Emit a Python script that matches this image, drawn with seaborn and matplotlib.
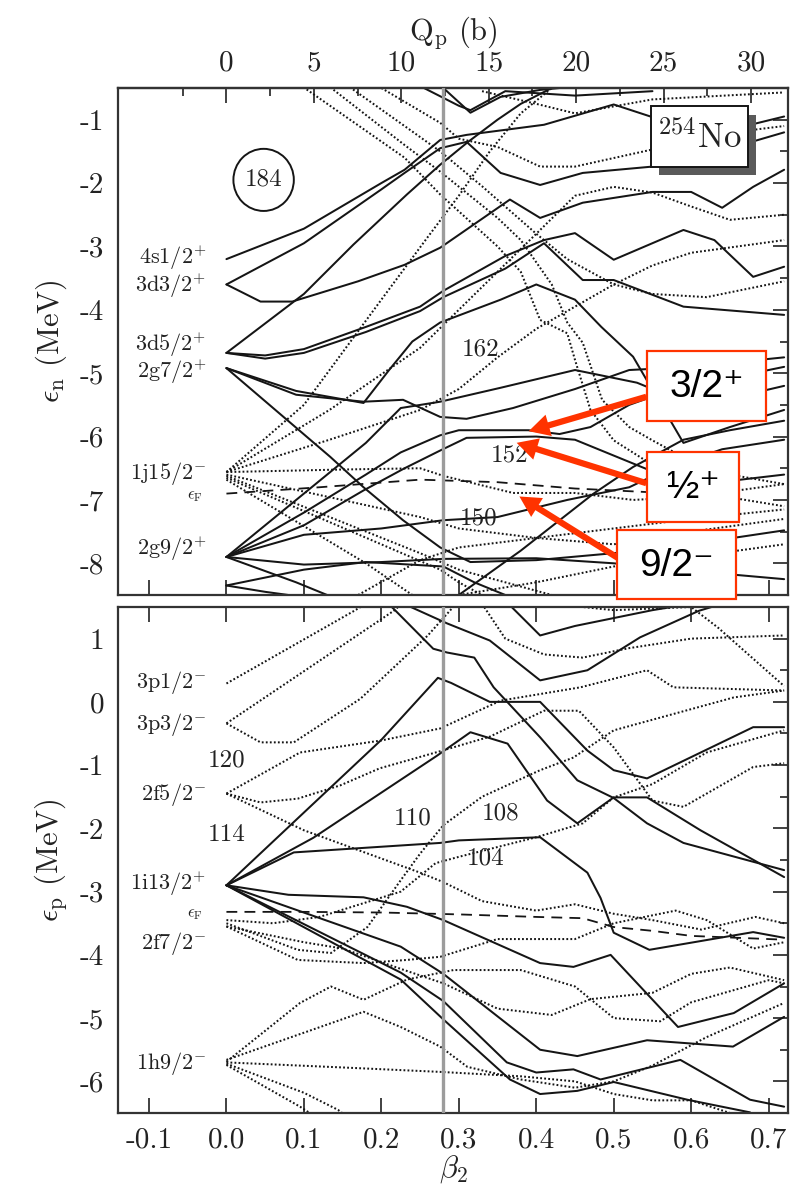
import matplotlib
matplotlib.use("Agg")
import matplotlib.pyplot as plt
import numpy as np
import pandas as pd
import seaborn as sns
from matplotlib.patches import Rectangle, Ellipse, FancyArrowPatch
from matplotlib.ticker import FixedLocator, FixedFormatter

# ---------------- tick values / labels ----------------
beta_major = [-0.1, 0.0, 0.1, 0.2, 0.3, 0.4, 0.5, 0.6, 0.7]
beta_labels = ["-0.1", "0.0", "0.1", "0.2", "0.3", "0.4", "0.5", "0.6", "0.7"]
beta_minor = [-0.05, 0.05, 0.15, 0.25, 0.35, 0.45, 0.55, 0.65]
q_major = [0, 5, 10, 15, 20, 25, 30]
q_labels = ["0", "5", "10", "15", "20", "25", "30"]
q_minor = [-2.5, 2.5, 7.5, 12.5, 17.5, 22.5, 27.5]
en_major = [-1, -2, -3, -4, -5, -6, -7, -8]
ep_major = [1, 0, -1, -2, -3, -4, -5, -6]

# ---------------- neutron single-particle levels (beta2, E) ----------------
# positive parity (solid)
n_4s1 = [(0, -3.2), (0.1, -2.72), (0.2, -2.0), (0.23, -1.79), (0.276, -1.32), (0.31, -1.24), (0.41, -1.08), (0.5, -0.76), (0.56, -1.0), (0.65, -1.16), (0.72, -0.95)]
n_3d3a = [(0, -3.6), (0.1, -2.95), (0.2, -2.1), (0.23, -1.84), (0.276, -1.45), (0.31, -1.35), (0.354, -1.84), (0.405, -2.03), (0.46, -1.84), (0.55, -1.74), (0.65, -1.45), (0.72, -1.2)]
n_3d3b = [(0, -3.6), (0.044, -3.87), (0.085, -3.87), (0.17, -3.55), (0.23, -3.29), (0.276, -3.02), (0.366, -2.26), (0.405, -2.55), (0.46, -2.31), (0.55, -2.14), (0.6, -2.14), (0.64, -2.39), (0.68, -2.06), (0.72, -1.79)]
n_3d5a = [(0, -4.68), (0.1, -3.75), (0.164, -2.97), (0.233, -2.18), (0.276, -1.71), (0.312, -1.35), (0.35, -1.0), (0.38, -0.75), (0.42, -0.5)]
n_3d5b = [(0, -4.68), (0.05, -4.72), (0.1, -4.62), (0.18, -4.27), (0.25, -3.95), (0.28, -3.7), (0.36, -3.15), (0.41, -2.9), (0.45, -2.79), (0.5, -3.21), (0.59, -2.74), (0.63, -2.9), (0.68, -3.48), (0.72, -3.32)]
n_3d5c = [(0, -4.68), (0.05, -4.77), (0.1, -4.68), (0.18, -4.35), (0.25, -4.02), (0.28, -3.8), (0.36, -3.35), (0.41, -2.95), (0.46, -3.53), (0.5, -3.53), (0.59, -3.95), (0.72, -4.08)]
n_2g7a = [(0, -4.92), (0.134, -6.32), (0.177, -6.8), (0.228, -7.32), (0.276, -7.75), (0.315, -7.98), (0.4, -7.95), (0.5, -7.84), (0.61, -7.68), (0.72, -7.48)]
n_2g7b = [(0, -4.92), (0.09, -5.34), (0.177, -5.45), (0.228, -5.42), (0.276, -5.69), (0.31, -5.72), (0.37, -5.55), (0.45, -5.25), (0.52, -4.95), (0.6, -4.9), (0.72, -4.75)]
n_2g7c = [(0, -4.92), (0.09, -5.28), (0.177, -5.47), (0.21, -4.95), (0.24, -4.5), (0.276, -4.2), (0.354, -3.84), (0.4, -3.6), (0.45, -3.84), (0.484, -4.27), (0.525, -4.74), (0.59, -6.1), (0.65, -5.85), (0.72, -5.58)]
n_2g9a = [(0, -7.9), (0.1, -6.9), (0.18, -6.1), (0.225, -5.55), (0.276, -5.45), (0.354, -5.23), (0.45, -4.95), (0.53, -5.15), (0.6, -5.5), (0.65, -5.4), (0.72, -5.2)]
n_2g9b = [(0, -7.9), (0.1, -7.2), (0.18, -6.6), (0.225, -6.25), (0.276, -5.98), (0.3, -5.9), (0.39, -5.9), (0.43, -5.96), (0.47, -5.85), (0.52, -5.5), (0.6, -5.15), (0.66, -5.05), (0.72, -4.9)]
n_2g9c = [(0, -7.9), (0.1, -7.4), (0.177, -6.85), (0.23, -6.5), (0.276, -6.22), (0.31, -6.02), (0.4, -6.0), (0.45, -6.05), (0.5, -6.3), (0.55, -6.55), (0.6, -6.9), (0.65, -6.7), (0.72, -6.6)]
n_2g9d = [(0, -7.9), (0.1, -7.55), (0.2, -7.45), (0.28, -7.32), (0.35, -7.27), (0.44, -7.0), (0.52, -6.8), (0.58, -6.45), (0.64, -6.2), (0.72, -6.05)]
n_2g9e = [(0, -7.9), (0.1, -8.02), (0.2, -7.98), (0.28, -7.93), (0.4, -7.92), (0.5, -8.0), (0.6, -8.12), (0.72, -8.25)]
n_2g9f = [(0, -7.9), (0.09, -8.3), (0.13, -8.5)]
n_1i11a = [(0, -8.35), (0.1, -8.1), (0.18, -7.98), (0.28, -8.05), (0.32, -8.3), (0.36, -8.5)]
n_1i11b = [(0, -8.35), (0.05, -8.45), (0.08, -8.5)]
n_top_a = [(0.28, -0.5), (0.315, -0.89), (0.354, -0.64), (0.405, -0.53), (0.43, -0.5)]
n_top_b = [(0.255, -0.5), (0.3, -0.78), (0.315, -0.85), (0.33, -0.75), (0.36, -0.55), (0.45, -0.62), (0.55, -0.55)]
n_low_a = [(0.3, -8.5), (0.38, -7.8), (0.474, -6.9), (0.525, -6.48), (0.59, -6.05), (0.65, -5.9), (0.72, -5.75)]
# negative parity (dotted)
n_1j15a = [(0, -6.56), (0.1, -5.5), (0.2, -3.84), (0.26, -2.85), (0.3, -2.2), (0.34, -1.5), (0.38, -0.9), (0.42, -0.5)]
n_1j15b = [(0, -6.56), (0.133, -5.58), (0.25, -4.6), (0.3, -4.0), (0.35, -3.4), (0.4, -2.8), (0.45, -2.2), (0.5, -2.06), (0.55, -2.15), (0.6, -2.37), (0.65, -2.58), (0.72, -2.5)]
n_1j15c = [(0, -6.56), (0.133, -6.05), (0.25, -5.58), (0.3, -5.25), (0.35, -4.75), (0.4, -4.3), (0.45, -3.95), (0.5, -3.6), (0.55, -3.3), (0.6, -3.1), (0.72, -2.9)]
n_1j15d = [(0, -6.56), (0.15, -6.52), (0.25, -6.5), (0.28, -6.62), (0.37, -6.89), (0.45, -6.89), (0.525, -7.0), (0.6, -6.95), (0.72, -6.75)]
n_1j15e = [(0, -6.6), (0.25, -7.27), (0.3, -7.45), (0.4, -7.6), (0.5, -7.7), (0.6, -7.5), (0.72, -7.3)]
n_1j15f = [(0, -6.62), (0.25, -7.84), (0.3, -8.1), (0.36, -8.3), (0.42, -8.5)]
n_1j15g = [(0, -6.65), (0.276, -8.1), (0.3, -8.3), (0.33, -8.5)]
n_1j15h = [(0, -6.68), (0.18, -8.0), (0.24, -8.5)]
n_high_a = [(0.095, -0.45), (0.23, -1.6), (0.276, -2.18), (0.35, -3.0), (0.38, -3.4), (0.405, -4.16), (0.44, -4.37), (0.45, -4.79), (0.47, -5.58), (0.5, -6.06), (0.54, -6.37), (0.58, -6.58), (0.62, -6.9), (0.72, -7.1)]
n_high_b = [(0.13, -0.45), (0.23, -1.4), (0.276, -1.82), (0.35, -2.55), (0.38, -2.9), (0.42, -3.6), (0.44, -4.2), (0.46, -4.52), (0.485, -5.42), (0.52, -5.85), (0.55, -6.06), (0.58, -6.26), (0.65, -6.6), (0.72, -6.75)]
n_high_c = [(0.155, -0.45), (0.23, -1.1), (0.276, -1.5), (0.33, -2.05), (0.4, -2.8), (0.44, -3.2), (0.5, -3.6), (0.55, -3.75), (0.62, -3.8), (0.72, -3.55)]
n_high_d = [(0.2, -0.5), (0.276, -1.05), (0.3, -1.3), (0.35, -1.43), (0.405, -1.74), (0.45, -1.74), (0.55, -1.47), (0.62, -1.25), (0.72, -1.1)]
n_high_e = [(0.33, -0.55), (0.4, -0.75), (0.45, -0.9), (0.55, -0.68), (0.72, -0.57)]
n_low_b = [(0.17, -8.5), (0.25, -7.95), (0.3, -7.75), (0.4, -7.6), (0.5, -7.45), (0.6, -7.3), (0.72, -7.15)]
n_low_c = [(0.3, -8.5), (0.4, -8.3), (0.5, -8.05), (0.6, -7.9), (0.72, -7.7)]

# ---------------- proton single-particle levels ----------------
p_1i13a = [(0, -2.9), (0.2, -0.6), (0.273, 0.38), (0.29, 0.3), (0.34, 0.0), (0.405, 0.0), (0.466, -0.77), (0.5, -1.08), (0.543, -1.21), (0.68, -0.4), (0.72, -0.4)]
p_1i13b = [(0, -2.9), (0.112, -2.15), (0.272, -0.85), (0.315, -0.48), (0.363, -0.66), (0.414, -1.56), (0.453, -1.92), (0.5, -1.51), (0.543, -1.51), (0.612, -2.03), (0.72, -2.77)]
p_1i13c = [(0, -2.9), (0.087, -2.38), (0.276, -2.23), (0.3, -2.19), (0.405, -2.14), (0.466, -2.7), (0.483, -3.1), (0.5, -3.65), (0.546, -3.92), (0.68, -3.64), (0.72, -3.73)]
p_1i13d = [(0, -2.9), (0.08, -3.05), (0.177, -3.09), (0.233, -3.24), (0.28, -3.45), (0.405, -4.13), (0.448, -4.19), (0.496, -4.0), (0.583, -5.14), (0.655, -4.92), (0.72, -4.45)]
p_1i13e = [(0, -2.9), (0.225, -3.87), (0.28, -4.3), (0.405, -5.5), (0.453, -5.6), (0.543, -5.35), (0.654, -5.45), (0.72, -4.98)]
p_1i13f = [(0, -2.9), (0.225, -4.28), (0.28, -4.73), (0.362, -5.7), (0.4, -5.86), (0.448, -5.81), (0.483, -5.97), (0.586, -5.66), (0.676, -6.29), (0.72, -6.4)]
p_1i13g = [(0, -2.9), (0.225, -4.39), (0.28, -5.02), (0.366, -5.97), (0.405, -6.2), (0.453, -6.15), (0.5, -6.01), (0.595, -6.29), (0.676, -6.49)]
p_top_a = [(0.2, 1.65), (0.216, 1.47), (0.267, 0.84), (0.285, 0.78), (0.32, 0.7), (0.345, 0.23), (0.405, -0.56), (0.453, -1.24), (0.5, -1.52), (0.543, -1.92), (0.59, -2.23), (0.72, -2.66)]
p_top_b = [(0.22, 1.6), (0.285, 1.24), (0.34, 0.97), (0.405, 0.34), (0.466, 0.5), (0.534, 1.02), (0.61, 1.44), (0.64, 1.55)]
p_top_c = [(0.36, 1.6), (0.405, 1.05), (0.45, 1.2), (0.55, 1.45), (0.6, 1.55)]
p_3p1 = [(0, 0.29), (0.165, 1.44), (0.2, 1.7)]
p_3p3a = [(0, -0.34), (0.216, 1.44), (0.24, 1.7)]
p_3p3b = [(0, -0.34), (0.044, -0.64), (0.087, -0.64), (0.173, 0.05), (0.26, 1.05), (0.3, 1.6)]
p_2f5a = [(0, -1.45), (0.095, -0.8), (0.2, -0.61), (0.276, -0.42), (0.354, 0.02), (0.457, 0.23), (0.543, 0.5), (0.577, 0.23), (0.72, 0.18)]
p_2f5b = [(0, -1.45), (0.044, -1.59), (0.092, -1.53), (0.147, -1.32), (0.198, -1.05), (0.276, -0.78), (0.34, -0.55), (0.41, -0.14), (0.455, -0.14), (0.5, -0.72), (0.55, -1.56), (0.59, -1.66), (0.68, -1.03), (0.72, -0.97)]
p_2f5c = [(0, -1.45), (0.1, -2.03), (0.25, -2.7), (0.28, -2.85), (0.33, -3.15), (0.4, -3.3), (0.45, -3.2), (0.5, -3.35), (0.55, -3.45), (0.613, -3.6), (0.683, -3.4), (0.72, -3.5)]
p_2f7a = [(0, -3.45), (0.06, -3.5), (0.12, -3.4), (0.225, -3.0), (0.27, -2.55), (0.3, -2.45), (0.4, -2.14), (0.46, -1.92), (0.5, -1.51), (0.55, -1.3), (0.62, -0.8), (0.72, -0.45)]
p_2f7b = [(0, -3.5), (0.092, -3.92), (0.135, -3.97), (0.182, -3.56), (0.225, -2.82), (0.25, -2.4), (0.28, -1.95), (0.33, -1.5), (0.405, -1.08), (0.448, -0.88), (0.5, -0.45), (0.655, 0.07), (0.72, 0.18)]
p_2f7c = [(0, -3.55), (0.092, -4.08), (0.177, -4.13), (0.233, -4.08), (0.276, -4.03), (0.35, -3.75), (0.45, -3.75), (0.5, -3.5), (0.58, -3.3), (0.62, -3.45), (0.68, -3.9), (0.72, -3.8)]
p_2f7d = [(0, -3.55), (0.1, -3.8), (0.15, -3.9), (0.22, -4.2), (0.28, -4.45), (0.35, -4.85), (0.42, -4.95), (0.47, -4.7), (0.55, -4.6), (0.6, -4.3), (0.65, -4.2), (0.72, -4.4)]
p_1h9a = [(0, -5.69), (0.095, -4.76), (0.135, -4.5), (0.177, -4.71), (0.233, -4.39), (0.293, -4.24), (0.38, -4.24), (0.45, -4.5), (0.5, -5.0), (0.56, -5.05), (0.6, -4.75), (0.7, -4.4), (0.72, -4.45)]
p_1h9b = [(0, -5.66), (0.177, -4.9), (0.225, -5.14), (0.276, -5.45), (0.311, -5.77), (0.38, -5.97), (0.45, -6.1), (0.5, -6.0), (0.55, -5.75), (0.62, -5.3), (0.72, -4.76)]
p_1h9c = [(0, -5.7), (0.15, -5.78), (0.276, -5.85), (0.38, -5.92), (0.45, -6.0), (0.5, -6.2), (0.55, -6.3), (0.6, -6.3), (0.65, -6.5)]
p_1h9d = [(0, -5.72), (0.1, -6.18), (0.144, -6.45), (0.16, -6.6)]
p_1h9e = [(0, -5.74), (0.095, -6.4), (0.12, -6.6)]
p_top_d = [(0.33, 1.55), (0.36, 1.0), (0.41, 0.75), (0.46, 0.7), (0.52, 0.85), (0.6, 1.0), (0.72, 1.05)]
p_top_e = [(0.42, 1.55), (0.5, 1.45), (0.6, 1.5), (0.635, 1.17), (0.72, 0.25)]

neutron_solid = [n_4s1, n_3d3a, n_3d3b, n_3d5a, n_3d5b, n_3d5c, n_2g7a, n_2g7b, n_2g7c,
                 n_2g9a, n_2g9b, n_2g9c, n_2g9d, n_2g9e, n_2g9f, n_1i11a, n_1i11b,
                 n_top_a, n_top_b, n_low_a]
neutron_dotted = [n_1j15a, n_1j15b, n_1j15c, n_1j15d, n_1j15e, n_1j15f, n_1j15g, n_1j15h,
                  n_high_a, n_high_b, n_high_c, n_high_d, n_high_e, n_low_b, n_low_c]
proton_solid = [p_1i13a, p_1i13b, p_1i13c, p_1i13d, p_1i13e, p_1i13f, p_1i13g,
                p_top_a, p_top_b, p_top_c]
proton_dotted = [p_3p1, p_3p3a, p_3p3b, p_2f5a, p_2f5b, p_2f5c, p_2f7a, p_2f7b, p_2f7c, p_2f7d,
                 p_1h9a, p_1h9b, p_1h9c, p_1h9d, p_1h9e, p_top_d, p_top_e]

# Fermi levels
n_fermi_beta = [0.0, 0.12, 0.25, 0.35, 0.45, 0.55, 0.66]
n_fermi_E = [-6.9, -6.8, -6.68, -6.72, -6.82, -6.88, -6.85]
p_fermi_beta = [0.0, 0.1, 0.2, 0.3, 0.4, 0.46, 0.5, 0.55, 0.6, 0.72]
p_fermi_E = [-3.32, -3.32, -3.33, -3.36, -3.4, -3.42, -3.56, -3.62, -3.7, -3.76]

# spherical labels
n_sph_labels = [r"$\mathrm{4s1/2}^{+}$", r"$\mathrm{3d3/2}^{+}$", r"$\mathrm{3d5/2}^{+}$",
                r"$\mathrm{2g7/2}^{+}$", r"$\mathrm{1j15/2}^{-}$", r"$\mathrm{2g9/2}^{+}$"]
n_sph_E = [-3.18, -3.62, -4.55, -4.98, -6.58, -7.77]
p_sph_labels = [r"$\mathrm{3p1/2}^{-}$", r"$\mathrm{3p3/2}^{-}$", r"$\mathrm{2f5/2}^{-}$",
                r"$\mathrm{1i13/2}^{+}$", r"$\mathrm{2f7/2}^{-}$", r"$\mathrm{1h9/2}^{-}$"]
p_sph_E = [0.3, -0.36, -1.47, -2.87, -3.82, -5.72]
n_gap_labels = ["162", "152", "150"]
n_gap_pos = [(0.328, -4.63), (0.366, -6.3), (0.325, -7.29)]
p_gap_labels = ["120", "114", "110", "108", "104"]
p_gap_pos = [(0.0, -0.92), (0.0, -2.1), (0.24, -1.84), (0.354, -1.76), (0.334, -2.47)]
q_per_beta = 44.3
beta_marker = 0.28

# ---------------- style ----------------
sns.set_theme(style="white")
plt.rcParams["font.family"] = ["cmr10", "DejaVu Serif"]
plt.rcParams["mathtext.fontset"] = "cm"
plt.rcParams["axes.unicode_minus"] = False
plt.rcParams["axes.formatter.use_mathtext"] = True

INK = "#151515"
fig = plt.figure(figsize=(8.09, 11.99), dpi=100)
W, H = 809.0, 1199.0


def ax_rect(x0, y0, x1, y1):
    return [x0 / W, 1 - y1 / H, (x1 - x0) / W, (y1 - y0) / H]


ax1 = fig.add_axes(ax_rect(118, 88, 788, 595))
ax2 = fig.add_axes(ax_rect(118, 607, 788, 1113))


def make_df(solid, dotted):
    rows = []
    for i, pts in enumerate(solid):
        for b, e in pts:
            rows.append((f"s{i}", "+", b, e))
    for i, pts in enumerate(dotted):
        for b, e in pts:
            rows.append((f"d{i}", "-", b, e))
    return pd.DataFrame(rows, columns=["line", "parity", "beta", "E"])


for ax, solid, dotted in [(ax1, neutron_solid, neutron_dotted), (ax2, proton_solid, proton_dotted)]:
    df = make_df(solid, dotted)
    sns.lineplot(data=df, x="beta", y="E", units="line", estimator=None, style="parity",
                 style_order=["+", "-"], dashes={"+": "", "-": (0.9, 1.1)},
                 color=INK, linewidth=1.45, sort=False, legend=False, ax=ax, zorder=2)

# Fermi levels
sns.lineplot(x=n_fermi_beta, y=n_fermi_E, ax=ax1, color=INK, linewidth=1.3, sort=False,
             estimator=None, dashes=False, zorder=2).lines[-1].set_dashes((6, 4))
sns.lineplot(x=p_fermi_beta, y=p_fermi_E, ax=ax2, color=INK, linewidth=1.3, sort=False,
             estimator=None, dashes=False, zorder=2).lines[-1].set_dashes((6, 4))

for ax, ylim, yt in [(ax1, (-8.5, -0.5), en_major), (ax2, (-6.5, 1.5), ep_major)]:
    ax.axvline(beta_marker, color="#9c9c9c", lw=2.4, zorder=3)
    ax.set_xlim(-0.14, 0.725)
    ax.set_ylim(*ylim)
    ax.xaxis.set_major_locator(FixedLocator(beta_major))
    ax.xaxis.set_minor_locator(FixedLocator(beta_minor))
    ax.yaxis.set_major_locator(FixedLocator(yt))
    ax.yaxis.set_minor_locator(FixedLocator([v + 0.5 for v in yt] + [yt[-1] - 0.5]))
    ax.yaxis.set_major_formatter(FixedFormatter([str(v) for v in yt]))
    ax.tick_params(axis="both", which="both", direction="in", right=True, colors="#333333",
                   labelcolor="#222222", labelsize=21, width=1.3)
    ax.tick_params(axis="both", which="major", length=11)
    ax.tick_params(axis="both", which="minor", length=6)
    ax.tick_params(axis="y", pad=10)
    for s in ax.spines.values():
        s.set_color("#333333")
        s.set_linewidth(1.6)
    ax.set_xlabel("")
    ax.set_ylabel("")

ax1.tick_params(axis="x", top=False, bottom=True, labelbottom=False)
ax2.tick_params(axis="x", top=True, bottom=True, labelbottom=True, pad=10)
ax2.xaxis.set_major_formatter(FixedFormatter(beta_labels))

secax = ax1.secondary_xaxis("top", functions=(lambda b: b * q_per_beta, lambda q: q / q_per_beta))
secax.xaxis.set_major_locator(FixedLocator(q_major))
secax.xaxis.set_minor_locator(FixedLocator(q_minor))
secax.xaxis.set_major_formatter(FixedFormatter(q_labels))
secax.tick_params(which="both", direction="in", colors="#333333", labelcolor="#222222",
                  labelsize=21, width=1.3, pad=8)
secax.tick_params(which="major", length=11)
secax.tick_params(which="minor", length=6)
secax.spines["top"].set_linewidth(1.6)
secax.set_xlabel(r"Q$_{\rm p}$ (b)", fontsize=22, labelpad=8, color="#222222")

ax1.set_ylabel(r"$\epsilon_{\rm n}$ (MeV)", fontsize=22, labelpad=8, color="#222222")
ax2.set_ylabel(r"$\epsilon_{\rm p}$ (MeV)", fontsize=22, labelpad=8, color="#222222")
ax2.set_xlabel(r"$\beta_2$", fontsize=22, labelpad=0, color="#222222")

# spherical level labels
for lab, e in zip(n_sph_labels, n_sph_E):
    ax1.text(-0.026, e, lab, ha="right", va="center", fontsize=16, color="#222222", zorder=6)
ax1.text(-0.03, -6.95, r"$\epsilon_{\rm F}$", ha="right", va="center", fontsize=12, color="#222222")
for lab, e in zip(p_sph_labels, p_sph_E):
    ax2.text(-0.026, e, lab, ha="right", va="center", fontsize=16, color="#222222", zorder=6)
ax2.text(-0.03, -3.36, r"$\epsilon_{\rm F}$", ha="right", va="center", fontsize=12, color="#222222")

for lab, (b, e) in zip(n_gap_labels, n_gap_pos):
    ax1.text(b, e, lab, ha="center", va="center", fontsize=18, color="#222222", zorder=6)
for lab, (b, e) in zip(p_gap_labels, p_gap_pos):
    ax2.text(b, e, lab, ha="center", va="center", fontsize=18, color="#222222", zorder=6)

# circled 184
ax1.add_patch(Ellipse((0.048, -1.95), 0.078, 0.98, fill=False, ec=INK, lw=1.4, zorder=6))
ax1.text(0.048, -1.95, "184", ha="center", va="center", fontsize=18, color="#222222", zorder=6)

# 254No box with shadow
ax1.add_patch(Rectangle((0.558, -1.87), 0.126, 0.95, fc="#5a5a5a", ec="none", zorder=7))
ax1.add_patch(Rectangle((0.548, -1.74), 0.126, 0.95, fc="white", ec=INK, lw=1.4, zorder=8))
ax1.text(0.611, -1.29, r"$^{254}$No", ha="center", va="center", fontsize=25, color="#222222", zorder=9)

# ---------------- red annotations (figure pixel coords) ----------------
RED = "#FF3300"


def fx(px):
    return px / W


def fy(py):
    return 1 - py / H


arrows = [((649, 396), (526, 432)), ((649, 484), (514, 442)), ((626, 563), (517, 495))]
for (x0, y0), (x1, y1) in arrows:
    fig.add_artist(FancyArrowPatch((fx(x0), fy(y0)), (fx(x1), fy(y1)), transform=fig.transFigure,
                                   arrowstyle="simple,head_length=1.5,head_width=1.6,tail_width=0.45",
                                   mutation_scale=10, color=RED, lw=0, zorder=20))

boxes = [((647, 351, 766, 421), "3/2⁺"), ((647, 452, 739, 522), "½⁺"), ((617, 530, 736, 599), "9/2⁻")]
for (x0, y0, x1, y1), txt in boxes:
    fig.add_artist(Rectangle((fx(x0), fy(y1)), (x1 - x0) / W, (y1 - y0) / H, transform=fig.transFigure,
                             fc="white", ec=RED, lw=1.6, zorder=21))
    fig.text(fx((x0 + x1) / 2), fy((y0 + y1) / 2 + 1), txt, ha="center", va="center", fontsize=28,
             family=["Liberation Sans", "DejaVu Sans"], color="black", zorder=22)

fig.savefig("out.png", dpi=100)
